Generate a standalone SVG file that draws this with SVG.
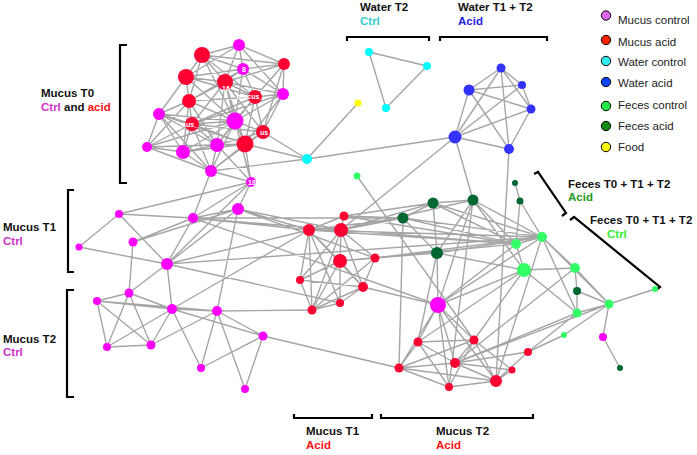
<svg xmlns="http://www.w3.org/2000/svg" width="697" height="455" viewBox="0 0 697 455">
<style>
text{font-family:"Liberation Sans",Arial,sans-serif}
.t{font-size:11.5px;font-weight:bold;fill:#111}
.cm{fill:#cc33cc}.ca{fill:#ff1111}.cw{fill:#33cccc}.cb{fill:#2222dd}.cfa{fill:#229922}.cfc{fill:#33ee33}
.lg{font-size:11.5px;fill:#222}
.nl{font-size:7px;font-weight:bold;fill:#fff;text-anchor:middle}
.e{fill:none;stroke:#a6a6a6;stroke-width:1.4}
.br{fill:none;stroke:#000;stroke-width:2.2}
.m{fill:#ff00ff}.r{fill:#ff0033}.c{fill:#00ffff}.b{fill:#3333ff}.dg{fill:#006633}.lgr{fill:#33ff66}.y{fill:#ffff00}
.lc{stroke:#000;stroke-width:1}
</style>
<rect width="697" height="455" fill="#fff"/>
<g id="connectors">
<path class="e" d="M239 45L202 55M239 45L243 69M239 45L284 64M239 45L225 82M239 45L283 94M239 45L186 77M202 55L243 69M202 55L186 77M202 55L225 82M202 55L189 101M202 55L255 97M202 55L284 64M202 55L235 121M243 69L284 64M243 69L283 94M243 69L225 82M243 69L255 97M243 69L186 77M243 69L189 101M243 69L235 121M284 64L283 94M284 64L255 97M284 64L225 82M284 64L263 132M186 77L225 82M186 77L189 101M186 77L159 114M186 77L192 124M186 77L235 121M186 77L255 97M225 82L255 97M225 82L283 94M225 82L189 101M225 82L192 124M225 82L235 121M225 82L263 132M225 82L217 145M225 82L245 144M255 97L283 94M255 97L235 121M255 97L192 124M255 97L263 132M255 97L245 144M255 97L189 101M255 97L217 145M283 94L263 132M283 94L235 121M283 94L245 144M283 94L192 124M189 101L159 114M189 101L192 124M189 101L235 121M189 101L183 152M189 101L217 145M189 101L147 147M159 114L192 124M159 114L235 121M159 114L147 147M159 114L183 152M159 114L217 145M159 114L211 171M159 114L245 144M192 124L235 121M192 124L183 152M192 124L217 145M192 124L263 132M192 124L147 147M192 124L211 171M192 124L245 144M235 121L263 132M235 121L217 145M235 121L245 144M235 121L211 171M235 121L183 152M235 121L147 147M235 121L251 182M263 132L245 144M263 132L217 145M263 132L211 171M263 132L307 159M147 147L183 152M147 147L211 171M147 147L217 145M147 147L245 144M183 152L217 145M183 152L211 171M183 152L245 144M217 145L245 144M217 145L211 171M217 145L251 182M245 144L211 171M245 144L251 182M245 144L307 159M211 171L307 159M211 171L251 182"/>
<path class="e" d="M369 52L427 66M369 52L386 108M427 66L386 108M358 103L307 159M307 159L455 137"/>
<path class="e" d="M469 90L501 68M469 90L522 85M469 90L531 109M469 90L455 137M469 90L509 149M501 68L455 137M501 68L531 109M501 68L509 149M522 85L455 137M522 85L531 109M531 109L455 137M531 109L509 149M455 137L509 149M501 68L522 85M455 137L473 200M455 137L341 230M509 149L496 381"/>
<path class="e" d="M119 214L79 247M119 214L167 264M119 214L193 218M119 214L251 182M79 247L167 264M133 242L193 218M133 242L238 209M133 242L129 293M167 264L129 293M167 264L172 309M167 264L193 218M167 264L238 209M193 218L238 209M193 218L251 182M238 209L251 182M167 264L251 182M193 218L309 230M193 218L341 230M193 218L438 305M238 209L341 230M238 209L309 230M238 209L375 258M167 264L542 237M167 264L309 230M238 209L217 311M172 309L309 230M193 218L403 218M167 264L340 303M211 171L193 218"/>
<path class="e" d="M97 301L129 293M97 301L107 347M97 301L151 345M97 301L172 309M97 301L217 311M129 293L107 347M129 293L151 345M129 293L172 309M107 347L151 345M107 347L172 309M151 345L172 309M151 345L217 311M172 309L217 311M172 309L263 336M172 309L201 368M217 311L201 368M217 311L245 389M217 311L263 336M263 336L201 368M263 336L245 389M263 336L399 368M217 311L312 310"/>
<path class="e" d="M344 216L309 230M344 216L341 230M309 230L341 230M309 230L340 261M309 230L300 280M309 230L312 310M309 230L363 287M309 230L340 303M341 230L340 261M341 230L300 280M341 230L312 310M341 230L363 287M341 230L375 258M340 261L375 258M340 261L300 280M340 261L312 310M340 261L340 303M340 261L363 287M375 258L312 310M375 258L363 287M300 280L363 287M300 280L312 310M363 287L312 310M363 287L340 303M340 303L312 310M363 287L438 305M375 258L437 253M344 216L403 218M344 216L433 203M341 230L403 218M341 230L433 203M341 230L516 244M309 230L403 218M309 230L542 237M341 230L473 200M340 261L516 244M375 258L542 237M344 216L516 244M309 230L516 244"/>
<path class="e" d="M515 183L520 201M520 201L542 237M520 201L516 244M433 203L473 200M433 203L516 244M433 203L437 253M433 203L403 218M473 200L516 244M473 200L524 270M473 200L438 305M473 200L437 253M403 218L516 244M403 218L542 237M403 218L437 253M437 253L542 237M437 253L524 270M437 253L438 305M437 253L418 342M542 237L575 268M542 237L577 313M542 237L609 304M542 237L438 305M516 244L524 270M524 270L575 268M524 270L438 305M524 270L577 313M575 268L577 291M575 268L609 304M577 291L577 313M577 291L609 304M609 304L655 289M609 304L577 313M609 304L603 337M603 337L620 368M357 176L474 340M516 244L438 305M524 270L418 342M524 270L474 340M542 237L496 381M575 268L455 363M609 304L455 363M577 313L455 363M577 313L528 352M564 335L528 352M564 335L609 304M473 200L449 387M403 218L399 368M516 244L542 237M433 203L542 237M473 200L542 237"/>
<path class="e" d="M438 305L418 342M438 305L474 340M438 305L455 363M438 305L449 387M438 305L496 381M438 305L399 368M418 342L474 340M418 342L399 368M418 342L455 363M418 342L449 387M474 340L455 363M474 340L496 381M474 340L449 387M474 340L512 370M455 363L528 352M455 363L399 368M455 363L496 381M399 368L449 387M399 368L496 381M399 368L474 340M449 387L496 381M496 381L512 370M496 381L528 352M455 363L512 370"/>
</g>
<g id="brackets">
<path class="br" d="M127 45H120V183H127"/>
<path class="br" d="M74 190H68V272H74"/>
<path class="br" d="M74 290H67V397H74"/>
<path class="br" d="M347 41V37H429V41"/>
<path class="br" d="M440 41V37H547V41"/>
<path class="br" d="M534 174L538 172L566 213L562 216"/>
<path class="br" d="M570 220L574 217L660 287L656 290"/>
<path class="br" d="M294 414V418H372V414"/>
<path class="br" d="M381 414V418H533V414"/>
</g>
<g id="nodes">
<g id="t0a"><circle class="m" cx="239" cy="45" r="6"/></g>
<g id="t0b"><circle class="r" cx="202" cy="55" r="8"/></g>
<g id="t0c"><circle class="m" cx="243" cy="69" r="6"/><text class="nl" x="244" y="71.5">8</text></g>
<g id="t0d"><circle class="r" cx="284" cy="64" r="6"/></g>
<g id="t0e"><circle class="r" cx="186" cy="77" r="8"/></g>
<g id="t0f"><circle class="r" cx="225" cy="82" r="8"/><text class="nl" x="226" y="91">16</text></g>
<g id="t0g"><circle class="r" cx="255" cy="97" r="7"/><text class="nl" x="250" y="99">mucus_</text></g>
<g id="t0h"><circle class="m" cx="283" cy="94" r="6"/></g>
<g id="t0i"><circle class="r" cx="189" cy="101" r="7"/></g>
<g id="t0j"><circle class="m" cx="159" cy="114" r="6"/></g>
<g id="t0k"><circle class="r" cx="192" cy="124" r="7"/><text class="nl" x="190" y="127">cus_</text></g>
<g id="t0l"><circle class="m" cx="235" cy="121" r="8.5"/></g>
<g id="t0m"><circle class="r" cx="263" cy="132" r="7"/><text class="nl" x="264" y="135">us</text></g>
<g id="t0n"><circle class="m" cx="147" cy="147" r="5"/></g>
<g id="t0o"><circle class="m" cx="183" cy="152" r="7"/></g>
<g id="t0p"><circle class="m" cx="217" cy="145" r="7"/></g>
<g id="t0q"><circle class="r" cx="245" cy="144" r="8.5"/></g>
<g id="t0r"><circle class="m" cx="211" cy="171" r="6"/></g>
<g id="t0s"><circle class="m" cx="251" cy="182" r="5"/><text class="nl" x="252" y="184.5">18</text></g>
<g id="wc1"><circle class="c" cx="307" cy="159" r="5"/></g>
<g id="wc2"><circle class="c" cx="369" cy="52" r="4"/></g>
<g id="wc3"><circle class="c" cx="427" cy="66" r="4"/></g>
<g id="wc4"><circle class="c" cx="386" cy="108" r="4"/></g>
<g id="food"><circle class="y" cx="358" cy="103" r="3.5"/></g>
<g id="wa1"><circle class="b" cx="501" cy="68" r="4.5"/></g>
<g id="wa2"><circle class="b" cx="469" cy="90" r="5.5"/></g>
<g id="wa3"><circle class="b" cx="522" cy="85" r="4"/></g>
<g id="wa4"><circle class="b" cx="531" cy="109" r="4.5"/></g>
<g id="wa5"><circle class="b" cx="455" cy="137" r="6.5"/></g>
<g id="wa6"><circle class="b" cx="509" cy="149" r="5"/></g>
<g id="m1a"><circle class="m" cx="119" cy="214" r="4"/></g>
<g id="m1b"><circle class="m" cx="193" cy="218" r="5"/></g>
<g id="m1c"><circle class="m" cx="238" cy="209" r="6"/></g>
<g id="m1d"><circle class="m" cx="133" cy="242" r="4.5"/></g>
<g id="m1e"><circle class="m" cx="79" cy="247" r="3.5"/></g>
<g id="m1f"><circle class="m" cx="167" cy="264" r="6"/></g>
<g id="m2a"><circle class="m" cx="129" cy="293" r="4.5"/></g>
<g id="m2b"><circle class="m" cx="97" cy="301" r="4"/></g>
<g id="m2c"><circle class="m" cx="172" cy="309" r="5"/></g>
<g id="m2d"><circle class="m" cx="217" cy="311" r="5"/></g>
<g id="m2e"><circle class="m" cx="107" cy="347" r="4"/></g>
<g id="m2f"><circle class="m" cx="151" cy="345" r="4.5"/></g>
<g id="m2g"><circle class="m" cx="263" cy="336" r="4.5"/></g>
<g id="m2h"><circle class="m" cx="201" cy="368" r="4"/></g>
<g id="m2i"><circle class="m" cx="245" cy="389" r="4"/></g>
<g id="a1a"><circle class="r" cx="344" cy="216" r="4.5"/></g>
<g id="a1b"><circle class="r" cx="309" cy="230" r="6"/></g>
<g id="a1c"><circle class="r" cx="341" cy="230" r="7"/></g>
<g id="a1d"><circle class="r" cx="340" cy="261" r="7"/></g>
<g id="a1e"><circle class="r" cx="375" cy="258" r="4.5"/></g>
<g id="a1f"><circle class="r" cx="300" cy="280" r="4"/></g>
<g id="a1g"><circle class="r" cx="363" cy="287" r="5"/></g>
<g id="a1h"><circle class="r" cx="340" cy="303" r="4"/></g>
<g id="a1i"><circle class="r" cx="312" cy="310" r="4.5"/></g>
<g id="a2m"><circle class="m" cx="438" cy="305" r="8"/></g>
<g id="a2a"><circle class="r" cx="418" cy="342" r="4.5"/></g>
<g id="a2b"><circle class="r" cx="474" cy="340" r="4.5"/></g>
<g id="a2c"><circle class="r" cx="455" cy="363" r="5"/></g>
<g id="a2d"><circle class="r" cx="399" cy="368" r="4.5"/></g>
<g id="a2e"><circle class="r" cx="449" cy="387" r="4"/></g>
<g id="a2f"><circle class="r" cx="496" cy="381" r="6"/></g>
<g id="a2g"><circle class="r" cx="512" cy="370" r="3.5"/></g>
<g id="a2h"><circle class="r" cx="528" cy="352" r="4"/></g>
<g id="fa1"><circle class="dg" cx="515" cy="183" r="3"/></g>
<g id="fa2"><circle class="dg" cx="520" cy="201" r="3.5"/></g>
<g id="fa3"><circle class="dg" cx="433" cy="203" r="5.5"/></g>
<g id="fa4"><circle class="dg" cx="473" cy="200" r="5.5"/></g>
<g id="fa5"><circle class="dg" cx="403" cy="218" r="5.5"/></g>
<g id="fa6"><circle class="dg" cx="437" cy="253" r="6"/></g>
<g id="fa7"><circle class="dg" cx="577" cy="291" r="4"/></g>
<g id="fa8"><circle class="dg" cx="620" cy="368" r="3"/></g>
<g id="fc1"><circle class="lgr" cx="357" cy="176" r="3.5"/></g>
<g id="fc2"><circle class="lgr" cx="516" cy="244" r="5"/></g>
<g id="fc3"><circle class="lgr" cx="542" cy="237" r="5"/></g>
<g id="fc4"><circle class="lgr" cx="524" cy="270" r="7"/></g>
<g id="fc5"><circle class="lgr" cx="575" cy="268" r="5"/></g>
<g id="fc6"><circle class="lgr" cx="577" cy="313" r="4.5"/></g>
<g id="fc7"><circle class="lgr" cx="609" cy="304" r="4.5"/></g>
<g id="fc8"><circle class="lgr" cx="655" cy="289" r="3"/></g>
<g id="fc9"><circle class="lgr" cx="564" cy="335" r="3"/></g>
<g id="mx"><circle class="m" cx="603" cy="337" r="4"/></g>
</g>
<g id="labels">
<text class="t" x="41" y="97">Mucus T0</text>
<text class="t" x="41" y="111"><tspan class="cm">Ctrl</tspan> and <tspan class="ca">acid</tspan></text>
<text class="t" x="3" y="231">Mucus T1</text>
<text class="t cm" x="3" y="245">Ctrl</text>
<text class="t" x="3" y="343">Mucus T2</text>
<text class="t cm" x="3" y="356">Ctrl</text>
<text class="t" x="360" y="11">Water T2</text>
<text class="t cw" x="360" y="25">Ctrl</text>
<text class="t" x="458" y="11">Water T1 + T2</text>
<text class="t cb" x="458" y="25">Acid</text>
<text class="t" x="568" y="188">Feces T0 + T1 + T2</text>
<text class="t cfa" x="568" y="201">Acid</text>
<text class="t" x="590" y="224">Feces T0 + T1 + T2</text>
<text class="t cfc" x="607" y="238">Ctrl</text>
<text class="t" x="306" y="435">Mucus T1</text>
<text class="t ca" x="306" y="449">Acid</text>
<text class="t" x="436" y="435">Mucus T2</text>
<text class="t ca" x="436" y="449">Acid</text>
</g>
<g id="legend">
<circle class="lc" cx="606" cy="15.5" r="4.7" fill="#dd66ee"/>
<text class="lg" x="618" y="24">Mucus control</text>
<circle class="lc" cx="606" cy="40" r="4.7" fill="#ff2200"/>
<text class="lg" x="618" y="46">Mucus acid</text>
<circle class="lc" cx="606" cy="61" r="4.7" fill="#33eeee"/>
<text class="lg" x="618" y="66">Water control</text>
<circle class="lc" cx="606" cy="82" r="4.7" fill="#1144ff"/>
<text class="lg" x="618" y="87">Water acid</text>
<circle class="lc" cx="606" cy="106" r="4.7" fill="#22ee44"/>
<text class="lg" x="618" y="109">Feces control</text>
<circle class="lc" cx="606" cy="126" r="4.7" fill="#118811"/>
<text class="lg" x="618" y="130">Feces acid</text>
<circle class="lc" cx="606" cy="147" r="4.7" fill="#ffff00"/>
<text class="lg" x="618" y="151">Food</text>
</g>
</svg>
